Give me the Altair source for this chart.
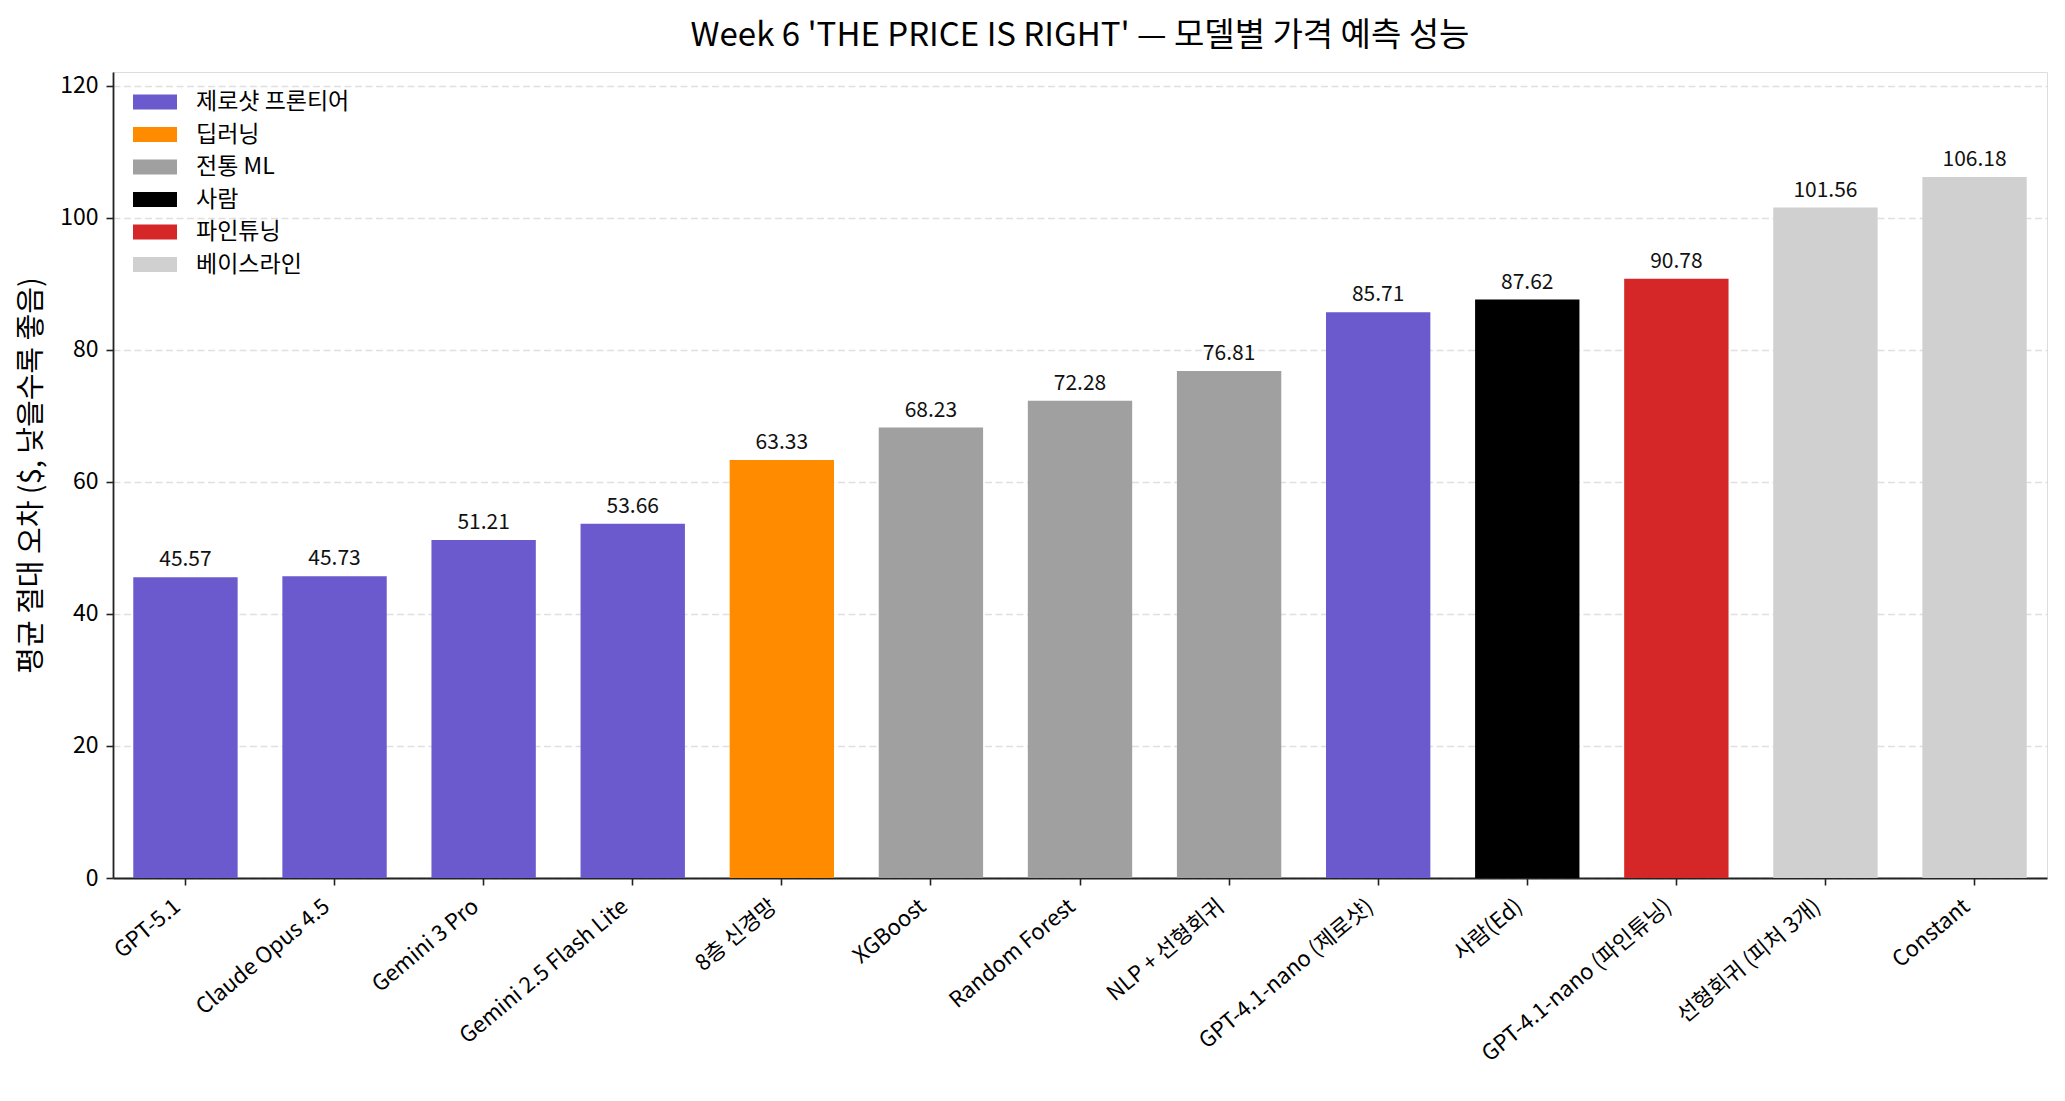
import altair as alt
import pandas as pd

models = [
    "GPT-5.1", "Claude Opus 4.5", "Gemini 3 Pro", "Gemini 2.5 Flash Lite",
    "8층 신경망", "XGBoost", "Random Forest", "NLP + 선형회귀",
    "GPT-4.1-nano (제로샷)", "사람(Ed)", "GPT-4.1-nano (파인튜닝)",
    "선형회귀 (피처 3개)", "Constant",
]
groups = [
    "제로샷 프론티어", "제로샷 프론티어", "제로샷 프론티어", "제로샷 프론티어",
    "딥러닝", "전통 ML", "전통 ML", "전통 ML",
    "제로샷 프론티어", "사람", "파인튜닝", "베이스라인", "베이스라인",
]
mae = [45.57, 45.73, 51.21, 53.66, 63.33, 68.23, 72.28, 76.81,
       85.71, 87.62, 90.78, 101.56, 106.18]

legend_order = ["제로샷 프론티어", "딥러닝", "전통 ML", "사람", "파인튜닝", "베이스라인"]
legend_colors = ["#6a5acd", "#ff8c00", "#a0a0a0", "#000000", "#d62728", "#d0d0d0"]
y_ticks = [0, 20, 40, 60, 80, 100, 120]

df = pd.DataFrame({"model": models, "group": groups, "mae": mae})

FONT = "Noto Sans CJK KR"

x_enc = alt.X(
    "model:N",
    sort=models,
    scale=alt.Scale(paddingInner=0.3, paddingOuter=0.136),
    axis=alt.Axis(
        title=None,
        labelAngle=320,
        labelAlign="right",
        labelBaseline="middle",
        labelPadding=18,
        labelOffset=-8,
        labelFontSize=22,
        labelFont=FONT,
        labelColor="black",
        labelLimit=600,
        labelOverlap=False,
        tickSize=7,
        tickWidth=1.6,
        tickColor="#222222",
        domainColor="#222222",
        domainWidth=1.8,
        grid=False,
    ),
)
y_enc = alt.Y(
    "mae:Q",
    scale=alt.Scale(domain=[0, 122.1], nice=False, zero=True),
    axis=alt.Axis(
        title="평균 절대 오차 ($, 낮을수록 좋음)",
        titleFont=FONT,
        titleFontSize=29,
        titleFontWeight="normal",
        titleColor="black",
        titleAngle=270,
        titleX=-82,
        titleY=403,
        titleAlign="center",
        titleBaseline="middle",
        values=y_ticks,
        labelFontSize=23,
        labelFont=FONT,
        labelColor="black",
        labelPadding=8,
        tickSize=7,
        tickWidth=1.6,
        tickColor="#222222",
        domainColor="#222222",
        domainWidth=1.8,
        grid=True,
        gridColor="#e0e0e0",
        gridDash=[7, 3.5],
        gridWidth=1.3,
    ),
)

bars = alt.Chart(df).mark_bar().encode(
    x=x_enc,
    y=y_enc,
    color=alt.Color(
        "group:N",
        scale=alt.Scale(domain=legend_order, range=legend_colors),
        legend=alt.Legend(
            title=None,
            orient="none",
            legendX=20,
            legendY=17,
            padding=0,
            symbolType="M-1,-0.34H1V0.34H-1Z",
            symbolSize=1936,
            symbolStrokeWidth=0,
            symbolOpacity=1,
            clipHeight=26,
            rowPadding=6.5,
            labelOffset=19,
            labelFont=FONT,
            labelFontSize=23,
            labelColor="black",
            labelLimit=400,
        ),
    ),
)

labels = alt.Chart(df).mark_text(
    baseline="alphabetic", align="center", dy=-11, font=FONT, fontSize=21, color="#111111"
).encode(
    x=alt.X("model:N", sort=models),
    y=alt.Y("mae:Q"),
    text=alt.Text("mae:Q", format=".2f"),
)

chart = (
    alt.layer(bars, labels)
    .properties(
        width=1934,
        height=806,
        padding={"left": 105, "top": 64, "right": 10, "bottom": 215},
        autosize=alt.AutoSizeParams(type="none"),
        title=alt.Title(
            "Week 6 'THE PRICE IS RIGHT' — 모델별 가격 예측 성능",
            font=FONT,
            fontSize=33,
            fontWeight="normal",
            color="black",
            anchor="middle",
            frame="group",
            baseline="alphabetic",
            offset=31,
            dy=38,
        ),
    )
    .configure_view(stroke=None)
    .configure(background="white")
)

chart.save("out.html", embed_options={"renderer": "svg", "actions": False})
